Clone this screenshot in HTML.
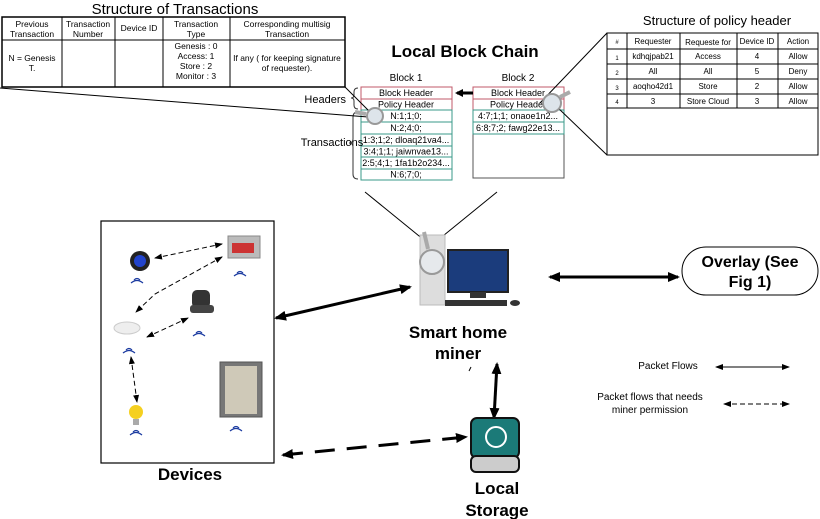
<!DOCTYPE html>
<html><head><meta charset="utf-8"><style>
body{margin:0;background:#fff}
svg{display:block;font-family:"Liberation Sans",sans-serif}
</style></head><body>
<svg width="820" height="519" viewBox="0 0 820 519" xmlns="http://www.w3.org/2000/svg">
<defs>
<marker id="ah" markerWidth="8" markerHeight="8" refX="6" refY="4" orient="auto" markerUnits="userSpaceOnUse"><path d="M0,0 L8,4 L0,8 z" fill="#000"/></marker>
<marker id="as" markerWidth="12" markerHeight="10" refX="10" refY="5" orient="auto-start-reverse" markerUnits="userSpaceOnUse"><path d="M0,0 L12,5 L0,10 z" fill="#000"/></marker>
<marker id="at" markerWidth="8" markerHeight="6" refX="7" refY="3" orient="auto-start-reverse" markerUnits="userSpaceOnUse"><path d="M0,0 L8,3 L0,6 z" fill="#000"/></marker>
</defs>
<!-- Structure of Transactions -->
<text x="175" y="14" font-size="15" text-anchor="middle">Structure of Transactions</text>
<g stroke="#000" fill="none" stroke-width="1">
<rect x="2" y="17" width="343" height="70" stroke-width="1.5"/>
<line x1="2" y1="40" x2="345" y2="40"/>
<line x1="62" y1="17" x2="62" y2="87"/><line x1="115" y1="17" x2="115" y2="87"/>
<line x1="163" y1="17" x2="163" y2="87"/><line x1="230" y1="17" x2="230" y2="87"/>
</g>
<g font-size="8.5" text-anchor="middle">
<text x="32" y="27">Previous</text><text x="32" y="37">Transaction</text>
<text x="88" y="27">Transaction</text><text x="88" y="37">Number</text>
<text x="139" y="31">Device ID</text>
<text x="196" y="27">Transaction</text><text x="196" y="37">Type</text>
<text x="287" y="27">Corresponding multisig</text><text x="287" y="37">Transaction</text>
<text x="32" y="61">N = Genesis</text><text x="32" y="71">T.</text>
<text x="196" y="49">Genesis : 0</text><text x="196" y="59">Access: 1</text><text x="196" y="69">Store : 2</text><text x="196" y="79">Monitor : 3</text>
<text x="287" y="61">If any ( for keeping signature</text><text x="287" y="71">of requester).</text>
</g>
<!-- Policy header -->
<text x="717" y="25" font-size="13" text-anchor="middle">Structure of policy header</text>
<g stroke="#000" fill="none">
<rect x="607" y="33" width="211" height="122"/>
<line x1="607" y1="49" x2="818" y2="49"/><line x1="607" y1="64" x2="818" y2="64"/>
<line x1="607" y1="79" x2="818" y2="79"/><line x1="607" y1="94" x2="818" y2="94"/>
<line x1="607" y1="108" x2="818" y2="108"/>
<line x1="627" y1="33" x2="627" y2="108"/><line x1="680" y1="33" x2="680" y2="108"/>
<line x1="737" y1="33" x2="737" y2="108"/><line x1="778" y1="33" x2="778" y2="108"/>
</g>
<g font-size="8" text-anchor="middle">
<text x="617" y="44" font-size="6">#</text><text x="653" y="44">Requester</text><text x="708" y="45">Requeste for</text><text x="757" y="44">Device ID</text><text x="798" y="44">Action</text>
<text x="617" y="60" font-size="6">1</text><text x="653" y="59">kdhqjpab21</text><text x="708" y="59">Access</text><text x="757" y="59">4</text><text x="798" y="59">Allow</text>
<text x="617" y="75" font-size="6">2</text><text x="653" y="74">All</text><text x="708" y="74">All</text><text x="757" y="74">5</text><text x="798" y="74">Deny</text>
<text x="617" y="90" font-size="6">3</text><text x="653" y="89">aoqho42d1</text><text x="708" y="89">Store</text><text x="757" y="89">2</text><text x="798" y="89">Allow</text>
<text x="617" y="104" font-size="6">4</text><text x="653" y="104">3</text><text x="708" y="104">Store Cloud</text><text x="757" y="104">3</text><text x="798" y="104">Allow</text>
</g>
<!-- Local block chain -->
<text x="465" y="57" font-size="17" font-weight="bold" text-anchor="middle">Local Block Chain</text>
<text x="406" y="81" font-size="10" text-anchor="middle">Block 1</text>
<text x="518" y="81" font-size="10" text-anchor="middle">Block 2</text>
<g font-size="9" text-anchor="middle">
<rect x="361" y="87" width="91" height="12" fill="#fff" stroke="#c0586a"/><text x="406" y="96">Block Header</text>
<rect x="361" y="99" width="91" height="11" fill="#fff" stroke="#c0586a"/><text x="406" y="107.5">Policy Header</text>
<g stroke="#3a9a8a" fill="#fff">
<rect x="361" y="110" width="91" height="12"/><rect x="361" y="122" width="91" height="12"/><rect x="361" y="134" width="91" height="12"/>
<rect x="361" y="146" width="91" height="11"/><rect x="361" y="157" width="91" height="12"/><rect x="361" y="169" width="91" height="11"/>
</g>
<text x="406" y="119">N:1;1;0;</text><text x="406" y="131">N:2;4;0;</text><text x="406" y="143">1:3;1;2;  dloaq21va4...</text>
<text x="406" y="154.5">3:4;1;1;  jaiwnvae13...</text><text x="406" y="166">2:5;4;1;  1fa1b2o234...</text><text x="406" y="177.5">N:6;7;0;</text>
<rect x="473" y="87" width="91" height="91" fill="#fff" stroke="#555"/>
<rect x="473" y="87" width="91" height="12" fill="#fff" stroke="#c0586a"/><text x="518" y="96">Block Header</text>
<rect x="473" y="99" width="91" height="11" fill="#fff" stroke="#c0586a"/><text x="518" y="107.5">Policy Header</text>
<rect x="473" y="110" width="91" height="12" fill="#fff" stroke="#3a9a8a"/><text x="518" y="119">4:7;1;1;  onaoe1n2...</text>
<rect x="473" y="122" width="91" height="12" fill="#fff" stroke="#3a9a8a"/><text x="518" y="131">6:8;7;2;  fawg22e13...</text>
</g>
<line x1="473" y1="93" x2="457" y2="93" stroke="#000" stroke-width="3" marker-end="url(#ah)"/>
<!-- braces -->
<text x="346" y="103" font-size="11" text-anchor="end">Headers</text>
<path d="M358,88 q-4,0 -4,4 v3 q0,3 -3,3 q3,0 3,3 v4 q0,4 4,4" fill="none" stroke="#333"/>
<text x="332" y="146" font-size="11" text-anchor="middle">Transactions</text>
<path d="M358,112 q-5,0 -5,5 v22 q0,4 -4,4 q4,0 4,4 v27 q0,5 5,5" fill="none" stroke="#333"/>
<!-- callout lines -->
<g stroke="#000" stroke-width="1">
<line x1="345" y1="87" x2="375" y2="117"/><line x1="0" y1="88" x2="368" y2="117"/>
<line x1="540" y1="103" x2="607" y2="33"/><line x1="556" y1="106" x2="607" y2="155"/>
<line x1="365" y1="192" x2="424" y2="240"/><line x1="497" y1="192" x2="438" y2="240"/>
</g>
<circle cx="375" cy="116" r="8" fill="#dde4ea" stroke="#999" stroke-width="2"/>
<line x1="366" y1="114" x2="355" y2="112" stroke="#aaa" stroke-width="4"/>
<circle cx="552" cy="103" r="9" fill="#dde4ea" stroke="#999" stroke-width="2"/>
<line x1="560" y1="97" x2="570" y2="92" stroke="#aaa" stroke-width="4"/>
<!-- Devices -->
<rect x="101" y="221" width="173" height="242" fill="#fff" stroke="#000" stroke-width="1.2"/>
<text x="190" y="480" font-size="17" font-weight="bold" text-anchor="middle">Devices</text>
<circle cx="140" cy="261" r="10" fill="#222"/><circle cx="140" cy="261" r="6" fill="#2244cc"/>
<rect x="228" y="236" width="32" height="22" fill="#bbb" stroke="#888"/><rect x="232" y="243" width="22" height="10" fill="#c33"/>
<rect x="192" y="290" width="18" height="18" rx="5" fill="#333"/><rect x="190" y="305" width="24" height="8" rx="3" fill="#444"/>
<ellipse cx="127" cy="328" rx="13" ry="6" fill="#eee" stroke="#ccc"/>
<circle cx="136" cy="412" r="7" fill="#f5d020"/><rect x="133" y="419" width="6" height="6" fill="#aaa"/>
<rect x="220" y="362" width="42" height="55" fill="#777" stroke="#555"/><rect x="225" y="366" width="32" height="48" fill="#cfc9b8"/>
<g stroke="#1a3aa0" stroke-width="1.2" fill="none">
<path d="M134,280 q3,-3 6,0 M131,283 q6,-5 12,0"/><path d="M237,273 q3,-3 6,0 M234,276 q6,-5 12,0"/>
<path d="M196,333 q3,-3 6,0 M193,336 q6,-5 12,0"/><path d="M126,350 q3,-3 6,0 M123,353 q6,-5 12,0"/>
<path d="M133,432 q3,-3 6,0 M130,435 q6,-5 12,0"/><path d="M233,428 q3,-3 6,0 M230,431 q6,-5 12,0"/>
</g>
<g stroke="#000" stroke-width="1" stroke-dasharray="5,3" fill="none">
<line x1="155" y1="258" x2="222" y2="244" marker-start="url(#at)" marker-end="url(#at)"/>
<path d="M222,257 L155,294 L136,312" marker-start="url(#at)" marker-end="url(#at)"/>
<line x1="147" y1="337" x2="188" y2="318" marker-start="url(#at)" marker-end="url(#at)"/>
<line x1="131" y1="357" x2="137" y2="402" marker-start="url(#at)" marker-end="url(#at)"/>
</g>
<!-- miner -->
<rect x="420" y="235" width="25" height="70" fill="#ddd" stroke="#bbb"/>
<rect x="448" y="250" width="60" height="42" fill="#1b3c7c" stroke="#222" stroke-width="2"/>
<rect x="470" y="292" width="16" height="6" fill="#333"/>
<rect x="445" y="300" width="62" height="6" fill="#333"/><ellipse cx="515" cy="303" rx="5" ry="3" fill="#333"/>
<circle cx="432" cy="262" r="12" fill="#e8ecf0" fill-opacity="0.8" stroke="#999" stroke-width="2"/>
<line x1="428" y1="249" x2="424" y2="232" stroke="#aaa" stroke-width="4"/>
<text x="458" y="338" font-size="17" font-weight="bold" text-anchor="middle">Smart home</text>
<text x="458" y="359" font-size="17" font-weight="bold" text-anchor="middle">miner</text>
<!-- arrows -->
<line x1="276" y1="318" x2="410" y2="287" stroke="#000" stroke-width="3" marker-start="url(#as)" marker-end="url(#as)"/>
<line x1="550" y1="277" x2="678" y2="277" stroke="#000" stroke-width="3" marker-start="url(#as)" marker-end="url(#as)"/>
<line x1="497" y1="364" x2="494" y2="418" stroke="#000" stroke-width="3" marker-start="url(#as)" marker-end="url(#as)"/>
<line x1="283" y1="455" x2="466" y2="437" stroke="#000" stroke-width="3" stroke-dasharray="20,12" marker-start="url(#as)" marker-end="url(#as)"/>
<!-- overlay -->
<rect x="682" y="247" width="136" height="48" rx="24" fill="#fff" stroke="#000"/>
<text x="750" y="267" font-size="16" font-weight="bold" text-anchor="middle">Overlay (See</text>
<text x="750" y="287" font-size="16" font-weight="bold" text-anchor="middle">Fig 1)</text>
<!-- storage -->
<rect x="471" y="418" width="48" height="40" rx="6" fill="#1b7a78" stroke="#111" stroke-width="2"/>
<rect x="471" y="456" width="48" height="16" rx="5" fill="#ccc" stroke="#111" stroke-width="2"/>
<circle cx="496" cy="437" r="10" fill="none" stroke="#fff" stroke-width="2"/>
<text x="497" y="494" font-size="17" font-weight="bold" text-anchor="middle">Local</text>
<text x="497" y="516" font-size="17" font-weight="bold" text-anchor="middle">Storage</text>
<!-- legend -->
<text x="668" y="369" font-size="10" text-anchor="middle">Packet Flows</text>
<line x1="716" y1="367" x2="789" y2="367" stroke="#000" marker-start="url(#at)" marker-end="url(#at)"/>
<text x="650" y="400" font-size="10" text-anchor="middle">Packet flows that needs</text>
<text x="650" y="413" font-size="10" text-anchor="middle">miner permission</text>
<line x1="724" y1="404" x2="789" y2="404" stroke="#000" stroke-dasharray="5,3" marker-start="url(#at)" marker-end="url(#at)"/>
<line x1="469" y1="371" x2="471" y2="367" stroke="#000"/>
</svg>
</body></html>
